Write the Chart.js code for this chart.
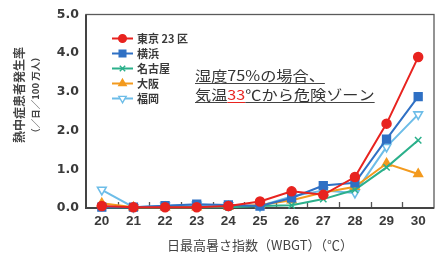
<!DOCTYPE html>
<html><head><meta charset="utf-8">
<script src="https://cdn.jsdelivr.net/npm/chart.js@4/dist/chart.umd.min.js"></script>
<style>html,body{margin:0;padding:0;background:#fff}#w{width:441px;height:257px}</style>
</head><body><div id="w"><canvas id="c" width="441" height="257"></canvas></div>
<script>
const categories = ['20','21','22','23','24','25','26','27','28','29','30'];
const seriesNames = ['東京 23 区','横浜','名古屋','大阪','福岡'];
const tokyo    = [0.05,0.02,0.02,0.02,0.05,0.17,0.43,0.34,0.80,2.18,3.90];
const yokohama = [0.02,0.02,0.06,0.10,0.08,0.05,0.26,0.58,0.65,1.78,2.88];
const nagoya   = [0.02,0.02,0.02,0.02,0.02,0.05,0.07,0.23,0.47,1.05,1.75];
const osaka    = [0.12,0.02,0.02,0.02,0.03,0.08,0.20,0.40,0.55,1.15,0.88];
const fukuoka  = [0.47,0.02,0.06,0.08,0.07,0.05,0.30,0.45,0.39,1.58,2.42];
const yTicks = [0,1,2,3,4,5];
const xTitle = '日最高暑さ指数（WBGT）（℃）';
const yTitle1 = '熱中症患者発生率';
const yTitle2 = '（／日／100 万人）';
const note1 = '湿度75%の場合、';
const note2 = [['気温','#333'],['33','#e8231f'],['℃から危険ゾーン','#333']];

const colors = ['#e8231f','#2f70c4','#2bb08b','#f39a1e','#6dbde8'];
const styles = [
  {pointStyle:'circle', radius:4.5, rot:0, fill:true},
  {pointStyle:'rect', radius:5.5, rot:0, fill:true},
  {pointStyle:'crossRot', radius:4.5, rot:0, fill:true},
  {pointStyle:'triangle', radius:5, rot:0, fill:true},
  {pointStyle:'triangle', radius:5, rot:180, fill:false}
];
const allData = [tokyo,yokohama,nagoya,osaka,fukuoka];
const FONT = '"Liberation Sans","Noto Sans CJK JP",sans-serif';
const YFONT = '"DejaVu Sans","Liberation Sans",sans-serif';
const JFONT = '"Noto Sans CJK JP","Liberation Sans",sans-serif';

const datasets = allData.map((d,i)=>({
  label: seriesNames[i], data: d,
  borderColor: colors[i], backgroundColor: styles[i].fill ? colors[i] : '#fff',
  borderWidth: 2, pointStyle: styles[i].pointStyle, pointRadius: styles[i].radius,
  pointRotation: styles[i].rot, pointBorderWidth: styles[i].fill ? 1.5 : 1.6,
  pointBorderColor: colors[i], pointBackgroundColor: styles[i].fill ? colors[i] : '#fff',
  tension: 0, clip: false
}));

function drawMarker(ctx, i, x, y, r){
  ctx.save();
  ctx.strokeStyle = colors[i];
  ctx.fillStyle = styles[i].fill ? colors[i] : '#fff';
  ctx.lineWidth = 1.4;
  if (Chart.helpers && Chart.helpers.drawPoint) {
    Chart.helpers.drawPoint(ctx, {pointStyle: styles[i].pointStyle, rotation: styles[i].rot, radius: r, borderWidth: 1.4}, x, y);
  } else {
    ctx.beginPath(); ctx.arc(x,y,r,0,Math.PI*2); ctx.fill(); ctx.stroke();
  }
  ctx.restore();
}

const decor = {
  id:'decor',
  beforeDatasetsDraw(chart){
    const {ctx, chartArea:a, scales:{x}} = chart;
    ctx.save();
    ctx.strokeStyle = '#555';
    ctx.lineWidth = 1.3;
    for (let i=1;i<categories.length;i++){
      const px = Math.round((x.getPixelForTick(i-1)+x.getPixelForTick(i))/2)+0.5;
      ctx.beginPath(); ctx.moveTo(px,a.bottom); ctx.lineTo(px,a.bottom-6); ctx.stroke();
    }
    ctx.strokeStyle = '#5a5a5a';
    ctx.lineWidth = 1.3;
    ctx.strokeRect(a.left, a.top, a.right-a.left, a.bottom-a.top);
    ctx.strokeStyle = '#444';
    ctx.lineWidth = 2;
    ctx.beginPath(); ctx.moveTo(a.left, a.top); ctx.lineTo(a.left, a.bottom); ctx.lineTo(a.right, a.bottom); ctx.stroke();
    ctx.restore();
  },
  afterDraw(chart){
    const {ctx, chartArea:a} = chart;
    ctx.save();
    // legend
    const lx = a.left + 26, ly = a.top + 24, step = 15;
    ctx.font = 'bold 11px ' + JFONT;
    ctx.textBaseline = 'middle';
    seriesNames.forEach((n,i)=>{
      const y = ly + i*step;
      ctx.strokeStyle = colors[i]; ctx.lineWidth = 2;
      ctx.beginPath(); ctx.moveTo(lx, y); ctx.lineTo(lx+21, y); ctx.stroke();
      drawMarker(ctx, i, lx+10.5, y, styles[i].radius*0.85);
      ctx.fillStyle = '#3a3a3a';
      ctx.fillText(n, lx+25, y+0.5);
    });
    // y title
    ctx.fillStyle = '#444';
    ctx.textAlign = 'center';
    ctx.textBaseline = 'middle';
    ctx.save(); ctx.translate(19, 95); ctx.rotate(-Math.PI/2);
    ctx.font = 'bold 12px ' + JFONT; ctx.fillText(yTitle1, 0, 0); ctx.restore();
    ctx.save(); ctx.translate(35, 95); ctx.rotate(-Math.PI/2);
    ctx.font = 'bold 9.5px ' + JFONT; ctx.fillText(yTitle2, 0, 0); ctx.restore();
    // note (horizontally widened like the reference)
    ctx.textAlign = 'left'; ctx.textBaseline = 'alphabetic';
    ctx.font = '14px ' + JFONT;
    const sx = 1.155;
    ctx.save();
    ctx.translate(195, 0); ctx.scale(sx, 1);
    ctx.fillStyle = '#333';
    ctx.fillText(note1, 0, 81);
    const w1 = ctx.measureText(note1).width;
    ctx.strokeStyle = '#444'; ctx.lineWidth = 1;
    ctx.beginPath(); ctx.moveTo(0, 83.5); ctx.lineTo(w1, 83.5); ctx.stroke();
    let cx = 0;
    note2.forEach(([t,c])=>{
      ctx.fillStyle = c; ctx.fillText(t, cx, 100);
      const w = ctx.measureText(t).width;
      ctx.strokeStyle = c === '#333' ? '#444' : c;
      ctx.beginPath(); ctx.moveTo(cx, 102.5); ctx.lineTo(cx+w, 102.5); ctx.stroke();
      cx += w;
    });
    ctx.restore();
    ctx.restore();
  }
};

new Chart(document.getElementById('c'), {
  type: 'line',
  data: { labels: categories, datasets },
  options: {
    responsive: false, animation: false,
    layout: { padding: { top: 12, right: 3, left: 0, bottom: 0 } },
    plugins: { legend: { display: false }, tooltip: { enabled: false } },
    scales: {
      x: {
        type: 'category', offset: true,
        grid: { display: false, drawTicks: false }, border: { display: false },
        ticks: { padding: 5, color: '#3a3a3a', font: { family: FONT, size: 13.5, weight: 'bold' }, maxRotation: 0, autoSkip: false },
        title: { display: true, text: xTitle, color: '#444', font: { family: JFONT, size: 13 }, padding: { top: 0, bottom: 4 } },
        afterFit(s){ s.height = 49; }
      },
      y: {
        min: yTicks[0], max: yTicks[yTicks.length-1],
        grid: { display: false, drawTicks: false }, border: { display: false },
        afterBuildTicks(s){ s.ticks = yTicks.map(v=>({value:v})); },
        ticks: { padding: 7, color: '#3a3a3a', font: { family: YFONT, size: 12.5, weight: 'bold' }, callback: v => Number(v).toFixed(1) },
        afterFit(s){ s.width = 86; }
      }
    }
  },
  plugins: [decor]
});
</script>
</body></html>
